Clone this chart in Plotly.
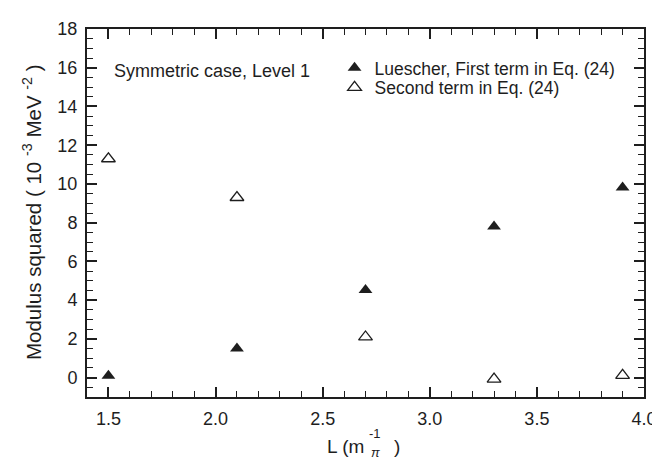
import plotly.graph_objects as go

# ---- data ----
L_values = [1.5, 2.1, 2.7, 3.3, 3.9]
first_term = [0.1, 1.5, 4.52, 7.8, 9.82]
second_term = [11.3, 9.3, 2.1, -0.08, 0.12]

series_names = ["Luescher, First term in Eq. (24)", "Second term in Eq. (24)"]
x_ticks = [1.5, 2.0, 2.5, 3.0, 3.5, 4.0]
x_ticklabels = ["1.5", "2.0", "2.5", "3.0", "3.5", "4.0"]
y_ticks = [0, 2, 4, 6, 8, 10, 12, 14, 16, 18]

FONT = "Liberation Sans, Arial, Helvetica, sans-serif"
INK = "#1e1e1e"

fig = go.Figure()
fig.add_trace(go.Scatter(
    x=L_values, y=first_term, mode="markers", name=series_names[0],
    marker=dict(symbol="triangle-up", size=12, color=INK, line=dict(width=0)),
    legend="legend",
))
fig.add_trace(go.Scatter(
    x=L_values, y=second_term, mode="markers", name=series_names[1],
    marker=dict(symbol="triangle-up-open", size=12, color=INK, line=dict(width=1.3, color=INK)),
    legend="legend2",
))

W, H = 660, 460
ml, mr, mt, mb = 79, 14, 11, 71
pw, ph = W - ml - mr, H - mt - mb

def px(xp):
    return (xp - ml) / pw

def py(yp):
    return (H - mb - yp) / ph

axis_common = dict(
    showline=True, linewidth=2, linecolor=INK, mirror="ticks",
    ticks="inside", ticklen=10, tickwidth=1.5, tickcolor=INK,
    showgrid=False, zeroline=False,
    tickfont=dict(family=FONT, size=18, color=INK),
)

fig.update_xaxes(
    range=[1.4, 4.0], tickvals=x_ticks, ticktext=x_ticklabels,
    minor=dict(dtick=0.1, tick0=1.4, ticks="inside", ticklen=6, tickwidth=1.2, tickcolor=INK, showgrid=False),
    ticklabelstandoff=4,
    **axis_common,
)
fig.update_yaxes(
    range=[-1, 18], tickvals=y_ticks,
    minor=dict(dtick=0.5, tick0=-1, ticks="inside", ticklen=6, tickwidth=1.2, tickcolor=INK, showgrid=False),
    ticklabelstandoff=4,
    **axis_common,
)

annotations = [
    dict(text="Symmetric case, Level 1", x=px(104), y=py(54), xref="paper", yref="paper",
         xanchor="left", yanchor="middle", showarrow=False,
         font=dict(family=FONT, size=18, color=INK)),
    dict(text="Modulus squared ( 10 <sup>-3</sup> MeV <sup>-2</sup> )", x=px(23), y=py(199),
         xref="paper", yref="paper", textangle=-90, xanchor="center", yanchor="middle",
         showarrow=False, font=dict(family=FONT, size=20.5, color=INK)),
    dict(text="L (m", x=px(363), y=py(440), xref="paper", yref="paper",
         xanchor="right", yanchor="middle", showarrow=False,
         font=dict(family=FONT, size=19, color=INK)),
    dict(text="-1", x=px(364), y=py(426), xref="paper", yref="paper",
         xanchor="left", yanchor="middle", showarrow=False,
         font=dict(family=FONT, size=13, color=INK)),
    dict(text="<i>π</i>", x=px(367), y=py(446), xref="paper", yref="paper",
         xanchor="left", yanchor="middle", showarrow=False, borderpad=0,
         font=dict(family=FONT, size=13, color=INK)),
    dict(text=")", x=px(389), y=py(440), xref="paper", yref="paper",
         xanchor="left", yanchor="middle", showarrow=False,
         font=dict(family=FONT, size=19, color=INK)),
]

legend_common = dict(
    xanchor="left", yanchor="middle", bgcolor="rgba(0,0,0,0)", borderwidth=0,
    font=dict(family=FONT, size=17.5, color=INK), itemwidth=30,
)

fig.update_layout(
    width=W, height=H,
    margin=dict(l=ml, r=mr, t=mt, b=mb, pad=0),
    paper_bgcolor="white", plot_bgcolor="white",
    showlegend=True,
    legend=dict(x=px(331), y=py(51), **legend_common),
    legend2=dict(x=px(331), y=py(71), **legend_common),
    annotations=annotations,
)

fig.write_html("out.html")
